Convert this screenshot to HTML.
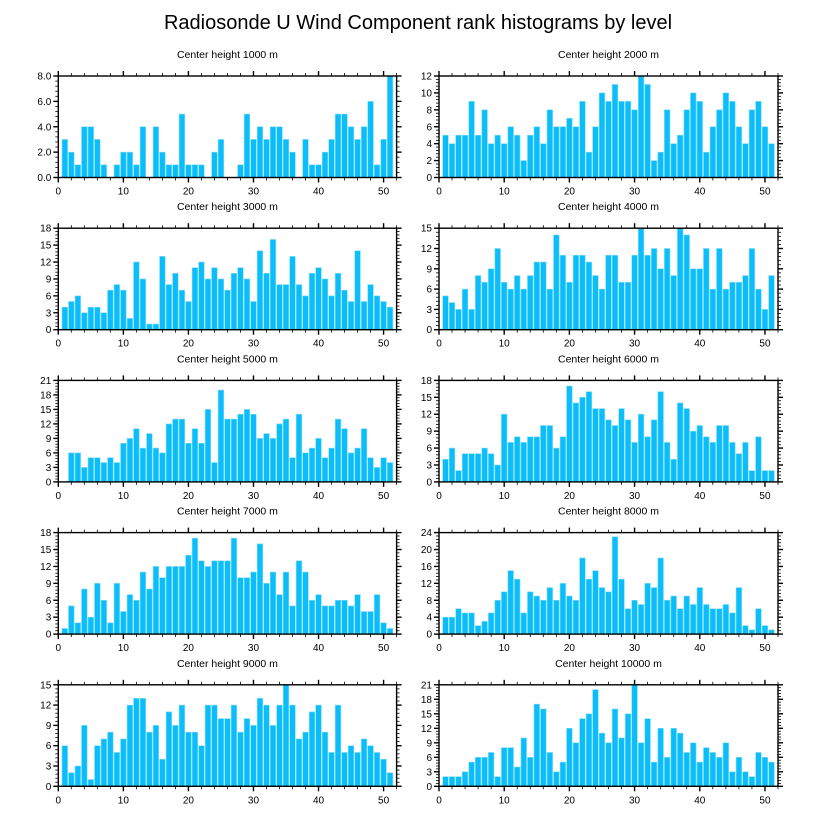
<!DOCTYPE html>
<html><head><meta charset="utf-8"><style>
body{margin:0;background:#fff;}
svg{display:block;font-family:"Liberation Sans",sans-serif;}
</style></head><body>
<svg id="chart" width="818" height="824" viewBox="0 0 818 824" xmlns="http://www.w3.org/2000/svg">
<text x="418" y="29" text-anchor="middle" font-size="20">Radiosonde U Wind Component rank histograms by level</text>
</svg>
<script>
const levels = ["1000","2000","3000","4000","5000","6000","7000","8000","9000","10000"];
const yMaxes = [8,12,18,15,21,18,18,24,15,21];
const ySteps = [2,2,3,3,3,3,3,4,3,3];
const xTicks = [0,10,20,30,40,50];
const v1000 = [3,2,1,4,4,3,1,0,1,2,2,1,4,0,4,2,1,1,5,1,1,1,0,2,3,0,0,1,5,3,4,3,4,4,3,2,0,3,1,1,2,3,5,5,4,3,4,6,1,3,8];
const v2000 = [5,4,5,5,9,5,8,4,5,4,6,5,2,5,6,4,8,6,6,7,6,9,3,6,10,9,11,9,9,8,12,11,2,3,8,4,5,8,10,9,3,6,8,10,9,6,4,8,9,6,4];
const v3000 = [4,5,6,3,4,4,3,7,8,7,2,12,9,1,1,13,8,10,7,5,11,12,9,11,9,7,10,11,9,5,14,10,16,8,8,13,8,6,10,11,9,6,10,7,5,14,5,8,6,5,4];
const v4000 = [5,4,3,6,3,8,7,9,12,7,6,8,6,8,10,10,6,14,11,7,11,11,10,8,6,11,11,7,7,11,15,11,12,9,12,8,15,14,9,9,12,6,12,6,7,7,8,12,6,3,8];
const v5000 = [0,6,6,3,5,5,4,5,4,8,9,11,7,10,7,6,12,13,13,8,11,8,15,4,19,13,13,14,15,14,9,10,9,12,13,5,14,6,7,9,5,7,13,11,6,7,11,5,3,5,4];
const v6000 = [4,6,2,5,5,5,6,5,3,12,7,8,7,8,8,10,10,6,8,17,14,15,16,13,13,11,10,13,11,7,12,8,11,16,7,4,14,13,9,10,8,7,10,10,7,5,7,2,8,2,2];
const v7000 = [1,5,2,8,3,9,6,2,9,4,7,6,11,8,12,10,12,12,12,14,17,13,12,13,13,13,17,10,10,11,16,9,11,7,11,5,13,11,6,7,5,5,6,6,5,7,4,4,7,2,1];
const v8000 = [4,4,6,5,5,2,3,5,8,10,15,13,5,10,9,8,11,8,12,9,8,18,13,15,11,10,23,13,6,8,7,12,11,18,8,9,6,9,7,11,7,6,6,7,5,11,2,1,6,2,1];
const v9000 = [6,2,3,9,1,6,7,8,5,7,12,13,13,8,9,4,11,9,12,8,8,6,12,12,10,10,12,8,10,9,13,12,9,12,15,12,7,8,11,12,8,5,12,5,6,5,7,6,5,4,2];
const v10000 = [2,2,2,3,5,6,6,7,2,8,8,4,10,6,17,16,7,3,5,12,9,14,15,20,11,9,16,10,15,21,9,14,5,12,6,12,11,7,9,5,8,7,6,9,3,6,3,2,7,6,5];
const series = [v1000,v2000,v3000,v4000,v5000,v6000,v7000,v8000,v9000,v10000];

const NS="http://www.w3.org/2000/svg";
const svg=document.getElementById('chart');
function mk(tag,attrs,parent){const e=document.createElementNS(NS,tag);for(const k in attrs)e.setAttribute(k,attrs[k]);(parent||svg).appendChild(e);return e;}
const XMAX=52;
for(let p=0;p<10;p++){
  const col=p%2,row=Math.floor(p/2);
  const L=col?439:58.3, R=col?778:396.6;
  const T=76+row*152.2, B=T+101.5;
  const xs=v=>L+(R-L)*v/XMAX;
  const ys=v=>B-(B-T)*v/yMaxes[p];
  const g=mk('g',{});
  
  
  const tt=mk('text',{x:(L+R)/2,y:T-18,'text-anchor':'middle','font-size':'10.5'},g);
  tt.textContent='Center height '+levels[p]+' m';
  
  
  const vals=series[p];
  for(let i=0;i<vals.length;i++){
    const x=i+1, w=0.86;
    const r=mk('rect',{x:xs(x-w/2),y:ys(vals[i]),width:xs(w)-xs(0),height:B-ys(vals[i]),fill:'#0bbdf8',stroke:'#7fdcff','stroke-width':'0.6'},g);
    
    
  }
  const fr=mk('rect',{x:L,y:T,width:R-L,height:B-T,fill:'none',stroke:'#000','stroke-width':'1.4'},g);
  
  
  // x ticks
  for(let v=0;v<=XMAX;v+=2){
    const maj=v%10===0, len=maj?5:3, x=xs(v);
    mk('line',{x1:x,x2:x,y1:B,y2:B+len,stroke:'#000','stroke-width':maj?1.4:0.8},g);
    mk('line',{x1:x,x2:x,y1:T,y2:T-len,stroke:'#000','stroke-width':maj?1.4:0.8},g);
  }
  xTicks.forEach(v=>{
    const t=mk('text',{x:xs(v),y:B+17,'text-anchor':'middle','font-size':'10'},g);
    t.textContent=v;
    
    
  });
  // y ticks
  const st=ySteps[p], mn=st/5;
  for(let k=0;k*mn<=yMaxes[p]+1e-9;k++){
    const v=k*mn, maj=k%5===0, len=maj?5:3, y=ys(v);
    mk('line',{x1:L,x2:L-len,y1:y,y2:y,stroke:'#000','stroke-width':maj?1.4:0.8},g);
    mk('line',{x1:R,x2:R+len,y1:y,y2:y,stroke:'#000','stroke-width':maj?1.4:0.8},g);
    if(maj){
      const t=mk('text',{x:L-7,y:y+3.5,'text-anchor':'end','font-size':'10'},g);
      t.textContent=p===0?v.toFixed(1):Math.round(v);
      
      
    }
  }
}
</script>
</body></html>
